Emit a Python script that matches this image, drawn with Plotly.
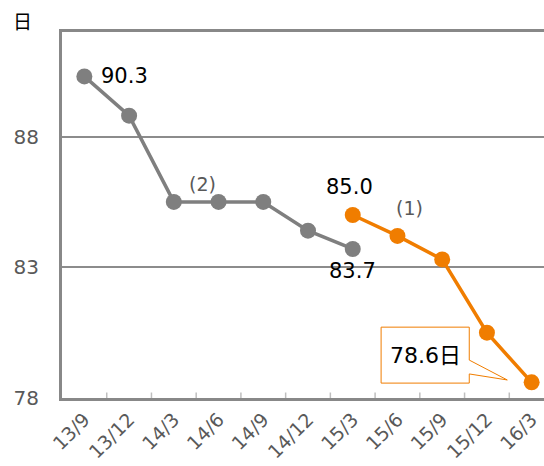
import plotly.graph_objects as go

categories = ["13/9", "13/12", "14/3", "14/6", "14/9", "14/12", "15/3", "15/6", "15/9", "15/12", "16/3"]
series_old = [90.3, 88.8, 85.5, 85.5, 85.5, 84.4, 83.7, None, None, None, None]
series_new = [None, None, None, None, None, None, 85.0, 84.2, 83.3, 80.5, 78.6]
y_ticks = [78, 83, 88]
unit = "日"

FONT = "DejaVu Sans, Noto Sans CJK JP, sans-serif"
GRAY = "#7f7f7f"
ORANGE = "#f07d00"
x_idx = list(range(len(categories)))

fig = go.Figure()
fig.add_trace(go.Scatter(x=x_idx, y=series_old, mode="lines+markers",
                         line=dict(color=GRAY, width=3.5),
                         marker=dict(color=GRAY, size=16), connectgaps=False))
fig.add_trace(go.Scatter(x=x_idx, y=series_new, mode="lines+markers",
                         line=dict(color=ORANGE, width=3.5),
                         marker=dict(color=ORANGE, size=16), connectgaps=False))

ann = []
# data labels
ann.append(dict(x=0, y=series_old[0], text=f"{series_old[0]:.1f}", showarrow=False,
                xanchor="left", xshift=15, font=dict(size=21, color="black")))
ann.append(dict(x=6, y=series_old[6], text=f"{series_old[6]:.1f}", showarrow=False,
                yshift=-22, font=dict(size=21, color="black")))
ann.append(dict(x=6, y=series_new[6], text=f"{series_new[6]:.1f}", showarrow=False,
                yshift=28, xshift=-3, font=dict(size=21, color="black")))
ann.append(dict(x=2.63, y=86.2, text="(2)", showarrow=False,
                font=dict(size=19, color="#595959")))
ann.append(dict(x=7.28, y=85.25, text="(1)", showarrow=False,
                font=dict(size=19, color="#595959")))
# callout
ann.append(dict(x=7.62, y=79.64, text=f"{series_new[10]:.1f}{unit}", showarrow=False,
                font=dict(size=22, color="black")))
ann.append(dict(x=0, y=1, xref="paper", yref="paper", xshift=-51, yshift=10,
                text=unit, showarrow=False, xanchor="left", yanchor="middle",
                font=dict(size=19, color="black")))

x0, x1, xt = 6.634, 8.605, 9.455
yt0, yb0, ya, yb, ytip = 80.71, 78.57, 79.45, 78.92, 78.69
path = (f"M {x0},{yt0} L {x1},{yt0} L {x1},{ya} L {xt},{ytip} L {x1},{yb} "
        f"L {x1},{yb0} L {x0},{yb0} Z")

fig.update_layout(
    width=544, height=466,
    margin=dict(l=62, r=0, t=32, b=68),
    paper_bgcolor="white", plot_bgcolor="white",
    showlegend=False,
    font=dict(family=FONT, color="#595959"),
    annotations=ann,
    shapes=[dict(type="path", path=path, xref="x", yref="y",
                 line=dict(color=ORANGE, width=1), fillcolor="white", layer="above")],
    xaxis=dict(tickmode="array", tickvals=x_idx, ticktext=categories,
               range=[-0.5, 10.276], tickangle=-45,
               showgrid=False, zeroline=False,
               showline=True, linecolor="#888888", linewidth=3, mirror=True,
               ticks="", tickfont=dict(size=19, color="#595959")),
    yaxis=dict(range=[78, 92], tickvals=y_ticks, showgrid=True,
               gridcolor="#8c8c8c", gridwidth=1.5, zeroline=False,
               showline=True, linecolor="#888888", linewidth=3,
               ticks="", tickfont=dict(size=20, color="#595959"), ticklabelstandoff=16),
)
# boundary tick marks (inside, short)
for b in range(1, len(categories)):
    fig.add_shape(type="line", xref="x", yref="paper", x0=b - 0.5, x1=b - 0.5,
                  y0=0, y1=0.015, line=dict(color="#bfbfbf", width=1.5))

fig.write_html("out.html")
